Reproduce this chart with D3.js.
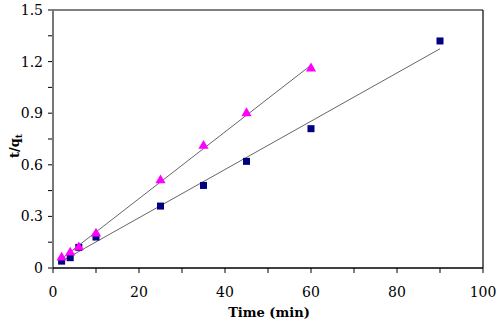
<!DOCTYPE html>
<html>
<head>
<meta charset="utf-8">
<script src="https://cdn.jsdelivr.net/npm/d3@7"></script>
<style>
body { margin: 0; background: #fff; }
</style>
</head>
<body>
<script>
// data
var sqTime = [2, 4, 6, 10, 25, 35, 45, 60, 90];
var sqVal = [0.04, 0.06, 0.12, 0.18, 0.36, 0.48, 0.62, 0.81, 1.32];
var triTime = [2, 4, 6, 10, 25, 35, 45, 60];
var triVal = [0.06, 0.09, 0.12, 0.20, 0.51, 0.71, 0.90, 1.16];
var xTicks = [0, 20, 40, 60, 80, 100];
var yTicks = [0, 0.3, 0.6, 0.9, 1.2, 1.5];

var W = 500, H = 323;
var margin = {top: 10, right: 17, bottom: 55, left: 53};
var FONT = "DejaVu Serif";

var svg = d3.select("body").append("svg")
    .attr("width", W)
    .attr("height", H);

var x = d3.scaleLinear().domain([0, 100]).range([margin.left, W - margin.right]);
var y = d3.scaleLinear().domain([0, 1.5]).range([H - margin.bottom, margin.top]);

// minor ticks
svg.append("g").selectAll("line").data(d3.range(0, 101, 10)).enter().append("line")
    .attr("x1", d => x(d)).attr("x2", d => x(d))
    .attr("y1", y(0)).attr("y2", y(0) + 5)
    .attr("stroke", "#000").attr("stroke-width", 1);
svg.append("g").selectAll("line").data(d3.range(0, 1.51, 0.15)).enter().append("line")
    .attr("x1", x(0) - 5).attr("x2", x(0))
    .attr("y1", d => y(d)).attr("y2", d => y(d))
    .attr("stroke", "#000").attr("stroke-width", 1);

// frame
svg.append("line").attr("x1", x(0)).attr("x2", x(100)).attr("y1", y(1.5)).attr("y2", y(1.5))
    .attr("stroke", "#555").attr("stroke-width", 1.5);
svg.append("line").attr("x1", x(100)).attr("x2", x(100)).attr("y1", y(1.5)).attr("y2", y(0))
    .attr("stroke", "#000").attr("stroke-width", 1.2);
svg.append("line").attr("x1", x(0)).attr("x2", x(0)).attr("y1", y(1.5)).attr("y2", y(0))
    .attr("stroke", "#777").attr("stroke-width", 2);
svg.append("line").attr("x1", x(0)).attr("x2", x(100)).attr("y1", y(0)).attr("y2", y(0))
    .attr("stroke", "#000").attr("stroke-width", 1.5);

// tick labels
svg.append("g").selectAll("text").data(xTicks).enter().append("text")
    .attr("x", d => x(d)).attr("y", y(0) + 29)
    .attr("font-family", FONT)
    .attr("text-anchor", "middle").attr("font-size", 14)
    .text(d => d);
svg.append("g").selectAll("text").data(yTicks).enter().append("text")
    .attr("x", x(0) - 10).attr("y", d => y(d) + 5)
    .attr("font-family", FONT)
    .attr("text-anchor", "end").attr("font-size", 14)
    .text(d => d === 0 ? "0" : d.toFixed(1));

// axis titles
svg.append("text")
    .attr("x", (x(0) + x(100)) / 2 + 1).attr("y", 317)
    .attr("font-family", FONT)
    .attr("text-anchor", "middle").attr("font-size", 13).attr("font-weight", "bold")
    .text("Time (min)");
var yl = svg.append("text")
    .attr("transform", "translate(19," + 146 + ") rotate(-90)")
    .attr("font-family", FONT)
    .attr("text-anchor", "middle").attr("font-size", 13).attr("font-weight", "bold");
yl.append("tspan").text("t/q");
yl.append("tspan").attr("font-size", 9).attr("dy", 3).text("t");

// linear trend lines (least squares over the points)
function fit(xs, ys) {
    var n = xs.length, mx = d3.mean(xs), my = d3.mean(ys);
    var sxy = 0, sxx = 0;
    for (var i = 0; i < n; i++) { sxy += (xs[i] - mx) * (ys[i] - my); sxx += (xs[i] - mx) * (xs[i] - mx); }
    var b = sxy / sxx;
    return {b: b, a: my - b * mx};
}
[[sqTime, sqVal], [triTime, triVal]].forEach(function (s) {
    var f = fit(s[0], s[1]);
    var x0 = d3.min(s[0]), x1 = d3.max(s[0]);
    svg.append("line")
        .attr("x1", x(x0)).attr("y1", y(f.a + f.b * x0))
        .attr("x2", x(x1)).attr("y2", y(f.a + f.b * x1))
        .attr("stroke", "#666").attr("stroke-width", 1);
});

// squares
svg.append("g").selectAll("rect").data(sqTime).enter().append("rect")
    .attr("x", d => x(d) - 3.5).attr("y", (d, i) => y(sqVal[i]) - 3.5)
    .attr("width", 7).attr("height", 7)
    .attr("fill", "#000080");

// triangles
var tri = d3.symbol().type(d3.symbolTriangle).size(45);
svg.append("g").selectAll("path").data(triTime).enter().append("path")
    .attr("d", tri)
    .attr("transform", (d, i) => "translate(" + x(d) + "," + y(triVal[i]) + ")")
    .attr("fill", "#FF00FF");
</script>
</body>
</html>
